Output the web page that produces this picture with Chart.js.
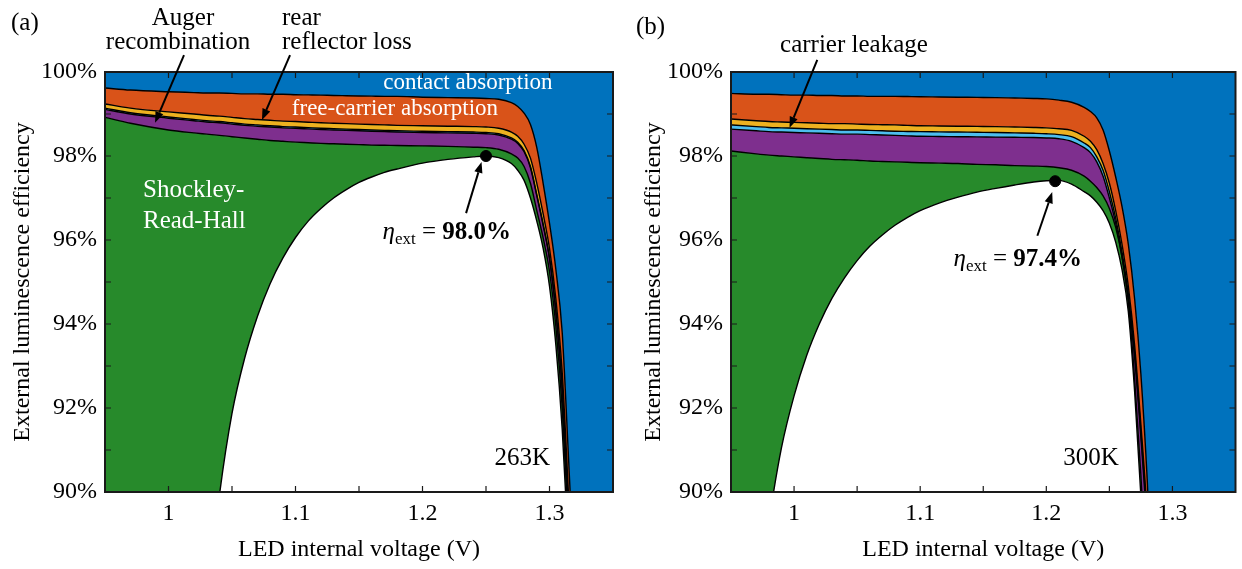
<!DOCTYPE html>
<html>
<head>
<meta charset="utf-8">
<script src="https://cdn.jsdelivr.net/npm/chart.js@4.4.1/dist/chart.umd.min.js"></script>
<style>
  html, body { margin: 0; padding: 0; background: #fff; }
  #wrap { position: relative; width: 1242px; height: 569px; overflow: hidden; background: #fff; }
  canvas { position: absolute; top: 0; }
</style>
</head>
<body>
<div id="wrap">
  <canvas id="panelA" width="621" height="569" style="left:0"></canvas>
  <canvas id="panelB" width="621" height="569" style="left:621px"></canvas>
</div>
<script>
// ---- Panel (a), 263 K: upper edge of each stacked band (efficiency, %) ----
const voltA  = [0.95, 0.97, 1.0, 1.02, 1.03, 1.04, 1.05, 1.06, 1.07, 1.08, 1.09, 1.10, 1.11, 1.12, 1.13, 1.14, 1.15, 1.16, 1.17, 1.18, 1.20, 1.22, 1.24, 1.25, 1.26, 1.27, 1.275, 1.28, 1.285, 1.29, 1.295, 1.30, 1.305, 1.31, 1.315, 1.32, 1.33, 1.35];
const etaA   = [60, 66, 76, 83.6, 87.2, 89.9, 91.87, 93.19, 94.18, 94.96, 95.57, 96.06, 96.45, 96.75, 97.0, 97.2, 97.37, 97.5, 97.61, 97.69, 97.83, 97.92, 97.98, 98.0, 97.96, 97.82, 97.66, 97.42, 97.0, 96.45, 95.8, 94.9, 93.5, 91.5, 88.6, 85.5, 78, 70];
const srhA   = [98.92, 98.78, 98.62, 98.55, 98.52, 98.49, 98.46, 98.43, 98.40, 98.37, 98.35, 98.33, 98.315, 98.30, 98.29, 98.28, 98.27, 98.26, 98.255, 98.25, 98.24, 98.23, 98.21, 98.20, 98.16, 98.05, 97.95, 97.75, 97.35, 96.7, 96.05, 95.25, 93.95, 92.0, 89.1, 86.0, 79, 71];
const augerA = [99.11, 99.0, 98.90, 98.84, 98.81, 98.79, 98.76, 98.73, 98.71, 98.69, 98.67, 98.66, 98.645, 98.63, 98.62, 98.61, 98.60, 98.59, 98.58, 98.57, 98.56, 98.55, 98.54, 98.53, 98.50, 98.40, 98.30, 98.10, 97.72, 97.05, 96.35, 95.55, 94.3, 92.45, 89.55, 86.3, 79.5, 71.5];
const leakA  = [99.14, 99.03, 98.93, 98.87, 98.84, 98.82, 98.79, 98.76, 98.74, 98.72, 98.70, 98.69, 98.675, 98.66, 98.65, 98.64, 98.63, 98.62, 98.61, 98.60, 98.59, 98.58, 98.57, 98.56, 98.53, 98.43, 98.33, 98.13, 97.75, 97.08, 96.38, 95.58, 94.33, 92.48, 89.58, 86.33, 79.53, 71.53];
const rearA  = [99.24, 99.14, 99.05, 99.0, 98.97, 98.95, 98.92, 98.89, 98.87, 98.85, 98.83, 98.82, 98.805, 98.79, 98.78, 98.77, 98.76, 98.75, 98.74, 98.73, 98.72, 98.71, 98.70, 98.69, 98.66, 98.57, 98.47, 98.28, 97.95, 97.35, 96.62, 95.8, 94.6, 92.85, 89.9, 86.6, 80, 72];
const fcaA   = [99.62, 99.57, 99.53, 99.51, 99.50, 99.50, 99.49, 99.48, 99.48, 99.47, 99.47, 99.46, 99.455, 99.45, 99.44, 99.435, 99.43, 99.425, 99.42, 99.42, 99.40, 99.39, 99.38, 99.37, 99.35, 99.27, 99.18, 99.02, 98.75, 98.2, 97.35, 96.4, 95.3, 93.8, 90.8, 87.6, 81, 73];
const peakVoltA = 1.25;
const peakEtaA  = 98.0;

// ---- Panel (b), 300 K ----
const voltB  = [0.95, 0.97, 0.98, 0.99, 1.0, 1.01, 1.02, 1.03, 1.04, 1.05, 1.06, 1.07, 1.08, 1.09, 1.10, 1.115, 1.13, 1.145, 1.16, 1.175, 1.19, 1.20, 1.21, 1.22, 1.23, 1.235, 1.24, 1.245, 1.25, 1.255, 1.26, 1.265, 1.27, 1.275, 1.28, 1.285, 1.29, 1.30, 1.35];
const etaB   = [82, 87.0, 89.27, 91.05, 92.29, 93.25, 94.0, 94.61, 95.10, 95.51, 95.85, 96.12, 96.35, 96.54, 96.70, 96.88, 97.02, 97.14, 97.23, 97.31, 97.38, 97.41, 97.42, 97.33, 97.15, 97.05, 96.9, 96.7, 96.4, 95.95, 95.3, 94.3, 92.4, 89.9, 87, 84, 81, 76, 60];
const srhB   = [98.12, 98.05, 98.02, 98.0, 97.98, 97.96, 97.94, 97.92, 97.91, 97.90, 97.88, 97.87, 97.86, 97.85, 97.84, 97.83, 97.82, 97.80, 97.79, 97.77, 97.76, 97.75, 97.72, 97.66, 97.52, 97.4, 97.25, 97.05, 96.75, 96.3, 95.6, 94.55, 92.7, 90.4, 87.6, 85, 82, 77, 61];
const augerB = [98.64, 98.60, 98.58, 98.57, 98.56, 98.55, 98.54, 98.53, 98.52, 98.52, 98.51, 98.50, 98.49, 98.48, 98.47, 98.465, 98.46, 98.455, 98.45, 98.445, 98.44, 98.43, 98.41, 98.35, 98.2, 98.08, 97.86, 97.52, 97.0, 96.4, 95.6, 94.6, 93.2, 91.3, 89.1, 86.2, 83.2, 78, 62];
const leakB  = [98.74, 98.70, 98.68, 98.67, 98.66, 98.65, 98.64, 98.63, 98.62, 98.62, 98.61, 98.60, 98.59, 98.585, 98.58, 98.575, 98.57, 98.565, 98.56, 98.55, 98.54, 98.53, 98.51, 98.46, 98.31, 98.2, 97.98, 97.66, 97.15, 96.52, 95.72, 94.72, 93.32, 91.42, 89.25, 86.35, 83.35, 78.2, 62.2];
const rearB  = [98.88, 98.84, 98.82, 98.81, 98.80, 98.79, 98.78, 98.77, 98.77, 98.76, 98.75, 98.745, 98.74, 98.73, 98.72, 98.715, 98.71, 98.705, 98.70, 98.69, 98.68, 98.67, 98.65, 98.61, 98.47, 98.35, 98.15, 97.82, 97.35, 96.7, 95.9, 94.9, 93.5, 91.6, 89.45, 86.5, 83.5, 78.5, 62.5];
const fcaB   = [99.49, 99.47, 99.47, 99.46, 99.45, 99.45, 99.44, 99.44, 99.43, 99.43, 99.42, 99.42, 99.42, 99.415, 99.41, 99.405, 99.40, 99.395, 99.39, 99.38, 99.37, 99.36, 99.33, 99.28, 99.16, 99.06, 98.91, 98.62, 98.12, 97.5, 96.8, 95.9, 94.6, 92.8, 90.3, 87, 84, 79, 63];
const peakVoltB = 1.207;
const peakEtaB  = 97.4;

// ---- Axis ticks ----
const xTickValues = [1.0, 1.1, 1.2, 1.3];
const xTickText   = ['1', '1.1', '1.2', '1.3'];
const yTickValues = [90, 92, 94, 96, 98, 100];
const xMarkValues = [1.0, 1.05, 1.1, 1.15, 1.2, 1.25, 1.3];
const yMarkValues = [91, 92, 93, 94, 95, 96, 97, 98, 99];

const SERIF = '"Liberation Serif", "Times New Roman", serif';
const COLORS = {
  contact: '#0072BD', fca: '#D95319', rear: '#EDB120',
  leak: '#4DBEEE', auger: '#7E2F8E', srh: '#278A2B'
};

function pts(xs, ys) { return xs.map((x, i) => ({ x: x, y: ys[i] })); }

function bandDatasets(xs, s) {
  const line = { pointRadius: 0, borderColor: '#000', borderWidth: 1.4, cubicInterpolationMode: 'monotone' };
  return [
    Object.assign({ label: 'η_ext', data: pts(xs, s.eta), fill: false }, line),
    Object.assign({ label: 'Shockley-Read-Hall', data: pts(xs, s.srh), fill: '-1', backgroundColor: COLORS.srh }, line),
    Object.assign({ label: 'Auger recombination', data: pts(xs, s.auger), fill: '-1', backgroundColor: COLORS.auger }, line),
    Object.assign({ label: 'carrier leakage', data: pts(xs, s.leak), fill: '-1', backgroundColor: COLORS.leak }, line),
    Object.assign({ label: 'rear reflector loss', data: pts(xs, s.rear), fill: '-1', backgroundColor: COLORS.rear }, line),
    Object.assign({ label: 'free-carrier absorption', data: pts(xs, s.fca), fill: '-1', backgroundColor: COLORS.fca }, line),
    Object.assign({}, line, { label: 'contact absorption', data: pts(xs, s.fca), fill: 'end', backgroundColor: COLORS.contact, borderWidth: 0 }),
    {
      label: 'peak', type: 'scatter', data: [{ x: s.peakV, y: s.peakEta }],
      pointRadius: 5.5, pointBackgroundColor: '#000', pointBorderColor: '#000',
      showLine: false, order: -1
    }
  ];
}

function drawArrow(ctx, x0, y0, x1, y1) {
  const ang = Math.atan2(y1 - y0, x1 - x0);
  const len = 11, half = 4.2;
  const bx = x1 - len * Math.cos(ang), by = y1 - len * Math.sin(ang);
  ctx.beginPath();
  ctx.moveTo(x0, y0);
  ctx.lineTo(bx, by);
  ctx.lineWidth = 2;
  ctx.strokeStyle = '#000';
  ctx.stroke();
  ctx.beginPath();
  ctx.moveTo(x1, y1);
  ctx.lineTo(bx + half * Math.sin(ang), by - half * Math.cos(ang));
  ctx.lineTo(bx - half * Math.sin(ang), by + half * Math.cos(ang));
  ctx.closePath();
  ctx.fillStyle = '#000';
  ctx.fill();
}

function drawEtaLabel(ctx, right, base, value) {
  const parts = [
    { t: 'η', f: 'italic 25px ' + SERIF, dy: 0 },
    { t: 'ext', f: '17px ' + SERIF, dy: 5 },
    { t: ' = ', f: '25px ' + SERIF, dy: 0 },
    { t: value.toFixed(1) + '%', f: 'bold 25px ' + SERIF, dy: 0 }
  ];
  let w = 0;
  for (const p of parts) { ctx.font = p.f; p.w = ctx.measureText(p.t).width; w += p.w; }
  let x = right - w;
  ctx.textAlign = 'left';
  ctx.textBaseline = 'alphabetic';
  ctx.fillStyle = '#000';
  for (const p of parts) { ctx.font = p.f; ctx.fillText(p.t, x, base + p.dy); x += p.w; }
}

// Frame, inward tick marks, panel letter and annotations
const figureNotes = {
  id: 'figureNotes',
  afterDraw(chart, args, o) {
    const ctx = chart.ctx, a = chart.chartArea;
    const sx = chart.scales.x, sy = chart.scales.y;
    const X = v => sx.getPixelForValue(v), Y = v => sy.getPixelForValue(v);
    ctx.save();
    ctx.strokeStyle = '#1a1a1a';
    ctx.lineWidth = 1.2;
    ctx.beginPath();
    for (const v of xMarkValues) {
      const p = X(v);
      ctx.moveTo(p, a.bottom); ctx.lineTo(p, a.bottom - 6);
      ctx.moveTo(p, a.top); ctx.lineTo(p, a.top + 6);
    }
    for (const v of yMarkValues) {
      const p = Y(v);
      ctx.moveTo(a.left, p); ctx.lineTo(a.left + 6, p);
      ctx.moveTo(a.right, p); ctx.lineTo(a.right - 6, p);
    }
    ctx.stroke();
    ctx.lineWidth = 2;
    ctx.strokeRect(a.left, a.top, a.right - a.left, a.bottom - a.top);

    ctx.fillStyle = '#000';
    ctx.font = '25px ' + SERIF;
    ctx.textAlign = 'left';
    ctx.textBaseline = 'alphabetic';
    ctx.fillText(o.letter.text, o.letter.left, o.letter.baseline);

    for (const t of o.labels) {
      ctx.font = (t.size || 25) + 'px ' + SERIF;
      ctx.fillStyle = t.color || '#000';
      ctx.textAlign = t.align || 'left';
      ctx.fillText(t.text, X(t.x), Y(t.y));
    }
    for (const ar of o.arrows) drawArrow(ctx, X(ar.from[0]), Y(ar.from[1]), X(ar.to[0]), Y(ar.to[1]));
    drawEtaLabel(ctx, X(o.eta.x), Y(o.eta.y), o.eta.value);
    ctx.restore();
  }
};

function makeChart(id, xs, series, yAxisWidth, rightPad, yTitlePad, notes) {
  return new Chart(document.getElementById(id), {
    type: 'line',
    data: { datasets: bandDatasets(xs, series) },
    options: {
      responsive: false,
      animation: false,
      devicePixelRatio: 1,
      layout: { padding: { top: 72, right: rightPad, left: 0, bottom: 0 } },
      elements: { line: { capBezierPoints: false } },
      plugins: {
        legend: { display: false },
        tooltip: { enabled: false },
        filler: { drawTime: 'beforeDatasetsDraw' },
        figureNotes: notes
      },
      scales: {
        x: {
          type: 'linear', min: 0.95, max: 1.35,
          afterBuildTicks: s => { s.ticks = xTickValues.map(v => ({ value: v })); },
          afterFit: s => { s.height = 77; },
          grid: { display: false, drawTicks: false },
          border: { display: false },
          ticks: {
            padding: 7, color: '#000', maxRotation: 0,
            font: { family: SERIF, size: 24 },
            callback: (v, i) => xTickText[i]
          },
          title: {
            display: true, text: 'LED internal voltage (V)', color: '#000',
            font: { family: SERIF, size: 24 }, padding: { top: 0, bottom: 5 }
          }
        },
        y: {
          type: 'linear', min: 90, max: 100,
          afterBuildTicks: s => { s.ticks = yTickValues.map(v => ({ value: v })); },
          afterFit: s => { s.width = yAxisWidth; },
          grid: { display: false, drawTicks: false },
          border: { display: false },
          ticks: {
            padding: 8, color: '#000',
            font: { family: SERIF, size: 24 },
            callback: v => v + '%'
          },
          title: {
            display: true, text: 'External luminescence efficiency', color: '#000',
            font: { family: SERIF, size: 24 }, padding: { top: yTitlePad, bottom: 0 }
          }
        }
      }
    },
    plugins: [figureNotes]
  });
}

makeChart('panelA', voltA,
  { eta: etaA, srh: srhA, auger: augerA, leak: leakA, rear: rearA, fca: fcaA, peakV: peakVoltA, peakEta: peakEtaA },
  105, 8, 8,
  {
    letter: { text: '(a)', left: 11, baseline: 30 },
    labels: [
      { text: 'Auger', x: 1.0114, y: 101.12, align: 'center' },
      { text: 'recombination', x: 1.0075, y: 100.55, align: 'center' },
      { text: 'rear', x: 1.0894, y: 101.12 },
      { text: 'reflector loss', x: 1.0894, y: 100.55 },
      { text: 'contact absorption', x: 1.2358, y: 99.60, align: 'center', color: '#fff', size: 23 },
      { text: 'free-carrier absorption', x: 1.1783, y: 98.98, align: 'center', color: '#fff', size: 23 },
      { text: 'Shockley-', x: 0.9799, y: 97.02, color: '#fff' },
      { text: 'Read-Hall', x: 0.9799, y: 96.29, color: '#fff' },
      { text: '263K', x: 1.3004, y: 90.64, align: 'right' }
    ],
    arrows: [
      { from: [1.0122, 100.40], to: [0.9894, 98.79] },
      { from: [1.0957, 100.40], to: [1.0736, 98.86] },
      { from: [1.2343, 96.64], to: [1.2465, 97.86] }
    ],
    eta: { x: 1.2697, y: 96.02, value: peakEtaA }
  });

makeChart('panelB', voltB,
  { eta: etaB, srh: srhB, auger: augerB, leak: leakB, rear: rearB, fca: fcaB, peakV: peakVoltB, peakEta: peakEtaB },
  110, 2, 18,
  {
    letter: { text: '(b)', left: 15, baseline: 34 },
    labels: [
      { text: 'carrier leakage', x: 1.0475, y: 100.48, align: 'center' },
      { text: '300K', x: 1.2574, y: 90.64, align: 'right' }
    ],
    arrows: [
      { from: [1.0184, 100.29], to: [0.9964, 98.67] },
      { from: [1.1929, 96.10], to: [1.2047, 97.14] }
    ],
    eta: { x: 1.2283, y: 95.38, value: peakEtaB }
  });
</script>
</body>
</html>
